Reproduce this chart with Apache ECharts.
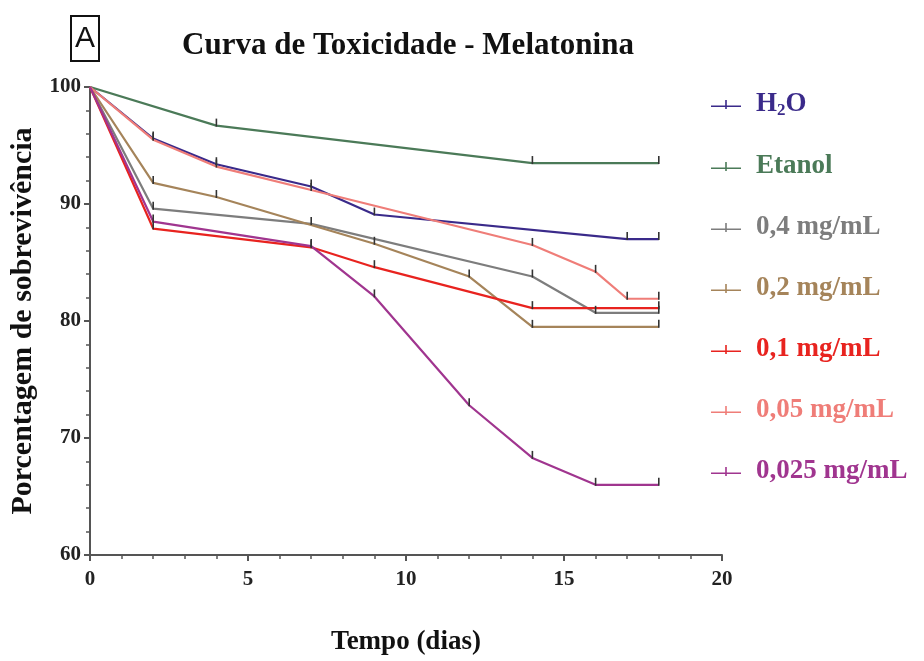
<!DOCTYPE html>
<html><head><meta charset="utf-8">
<script src="https://cdn.jsdelivr.net/npm/echarts@6/dist/echarts.min.js"></script>
<style>html,body{margin:0;padding:0;background:#fff}#c{width:924px;height:661px}</style>
</head><body><div id="c"></div>
<script>
const seriesNames = ['H2O','Etanol','0,4 mg/mL','0,2 mg/mL','0,1 mg/mL','0,05 mg/mL','0,025 mg/mL'];
const h2oDays = [0,2,4,7,9,17,18];
const h2oVals = [100,95.6,93.4,91.5,89.1,87.0,87.0];
const etanolDays = [0,4,14,18];
const etanolVals = [100,96.7,93.5,93.5];
const d04Days = [0,2,7,14,16,18];
const d04Vals = [100,89.6,88.3,83.8,80.7,80.7];
const d02Days = [0,2,4,9,12,14,18];
const d02Vals = [100,91.8,90.6,86.6,83.8,79.5,79.5];
const d01Days = [0,2,7,9,14,18];
const d01Vals = [100,87.9,86.3,84.6,81.1,81.1];
const d005Days = [0,2,4,7,14,16,17,18];
const d005Vals = [100,95.5,93.2,91.2,86.5,84.2,81.9,81.9];
const d0025Days = [0,2,7,9,12,14,16,18];
const d0025Vals = [100,88.5,86.4,82.1,72.8,68.3,66.0,66.0];
const xTicks = [0,5,10,15,20];
const yTicks = [60,70,80,90,100];

const colors = ['#3a2a8a','#4b7a58','#7d7d7d','#a5845a','#e8231f','#ef7d78','#a0358f'];
const allDays = [h2oDays,etanolDays,d04Days,d02Days,d01Days,d005Days,d0025Days];
const allVals = [h2oVals,etanolVals,d04Vals,d02Vals,d01Vals,d005Vals,d0025Vals];
const serif = 'Liberation Serif';

const series = seriesNames.map((n,i)=>({
  name:n, type:'line',
  data: allDays[i].map((d,j)=> j===0 ? {value:[d,allVals[i][j]], symbol:'none'} : [d,allVals[i][j]]),
  lineStyle:{color:colors[i], width:2.2},
  itemStyle:{color:'#333'},
  symbol:'rect', symbolSize:[1.6,8], symbolOffset:[0,-3],
  showAllSymbol:true,
  emphasis:{disabled:true},
  animation:false,
  z: 2
}));

const chart = echarts.init(document.getElementById('c'));
chart.setOption({
  backgroundColor:'#fff',
  animation:false,
  title:[
    {text:'Curva de Toxicidade - Melatonina', left:403, top:25, textAlign:'center',
     textStyle:{fontFamily:serif, fontWeight:'bold', fontSize:31, color:'#111'}},
    {text:'A', left:71, top:16, padding:[8,4,7,4], borderColor:'#111', borderWidth:2,
     textStyle:{fontFamily:'Liberation Sans', fontWeight:'normal', fontSize:30, lineHeight:30, color:'#111'}}
  ],
  legend:{
    orient:'vertical', left:706, top:86, itemGap:34, itemWidth:30, itemHeight:9,
    icon:'path://M0,9.4 L30,9.4 L30,11 L0,11 Z M14.2,4 L15.8,4 L15.8,13 L14.2,13 Z',
    data: seriesNames.map((n,i)=>({name:n, itemStyle:{color:colors[i]}, textStyle:{color:colors[i]}})),
    formatter: n => n==='H2O' ? 'H{sub|2}O' : n,
    textStyle:{fontFamily:serif, fontWeight:'bold', fontSize:27, padding:[0,0,0,10],
      rich:{sub:{fontFamily:serif, fontWeight:'bold', fontSize:17, color:colors[0], padding:[12,0,0,0]}}},
    selectedMode:false
  },
  grid:{left:90, right:202, top:87, bottom:106},
  xAxis:{
    type:'value', min:0, max:20, interval:5,
    name:'Tempo (dias)', nameLocation:'middle', nameGap:74,
    nameTextStyle:{fontFamily:serif, fontWeight:'bold', fontSize:27, color:'#111'},
    axisLine:{lineStyle:{color:'#555', width:2}},
    axisTick:{show:true, length:6, lineStyle:{color:'#555', width:2}},
    minorTick:{show:true, splitNumber:5, length:4, lineStyle:{color:'#555', width:1.5}},
    splitLine:{show:false},
    axisLabel:{fontFamily:serif, fontWeight:'bold', fontSize:21, color:'#222', margin:14,
      formatter: v => xTicks.includes(v) ? String(v) : ''}
  },
  yAxis:{
    type:'value', min:60, max:100, interval:10,
    name:'Porcentagem de sobrevivência', nameLocation:'middle', nameGap:52, nameRotate:90,
    nameTextStyle:{fontFamily:serif, fontWeight:'bold', fontSize:30, color:'#111'},
    axisLine:{show:true, lineStyle:{color:'#555', width:2}},
    axisTick:{show:true, length:6, lineStyle:{color:'#555', width:2}},
    minorTick:{show:true, splitNumber:5, length:4, lineStyle:{color:'#555', width:1.5}},
    splitLine:{show:false},
    axisLabel:{fontFamily:serif, fontWeight:'bold', fontSize:21, color:'#222', margin:9,
      formatter: v => yTicks.includes(v) ? String(v) : ''}
  },
  series: series
});
</script></body></html>
